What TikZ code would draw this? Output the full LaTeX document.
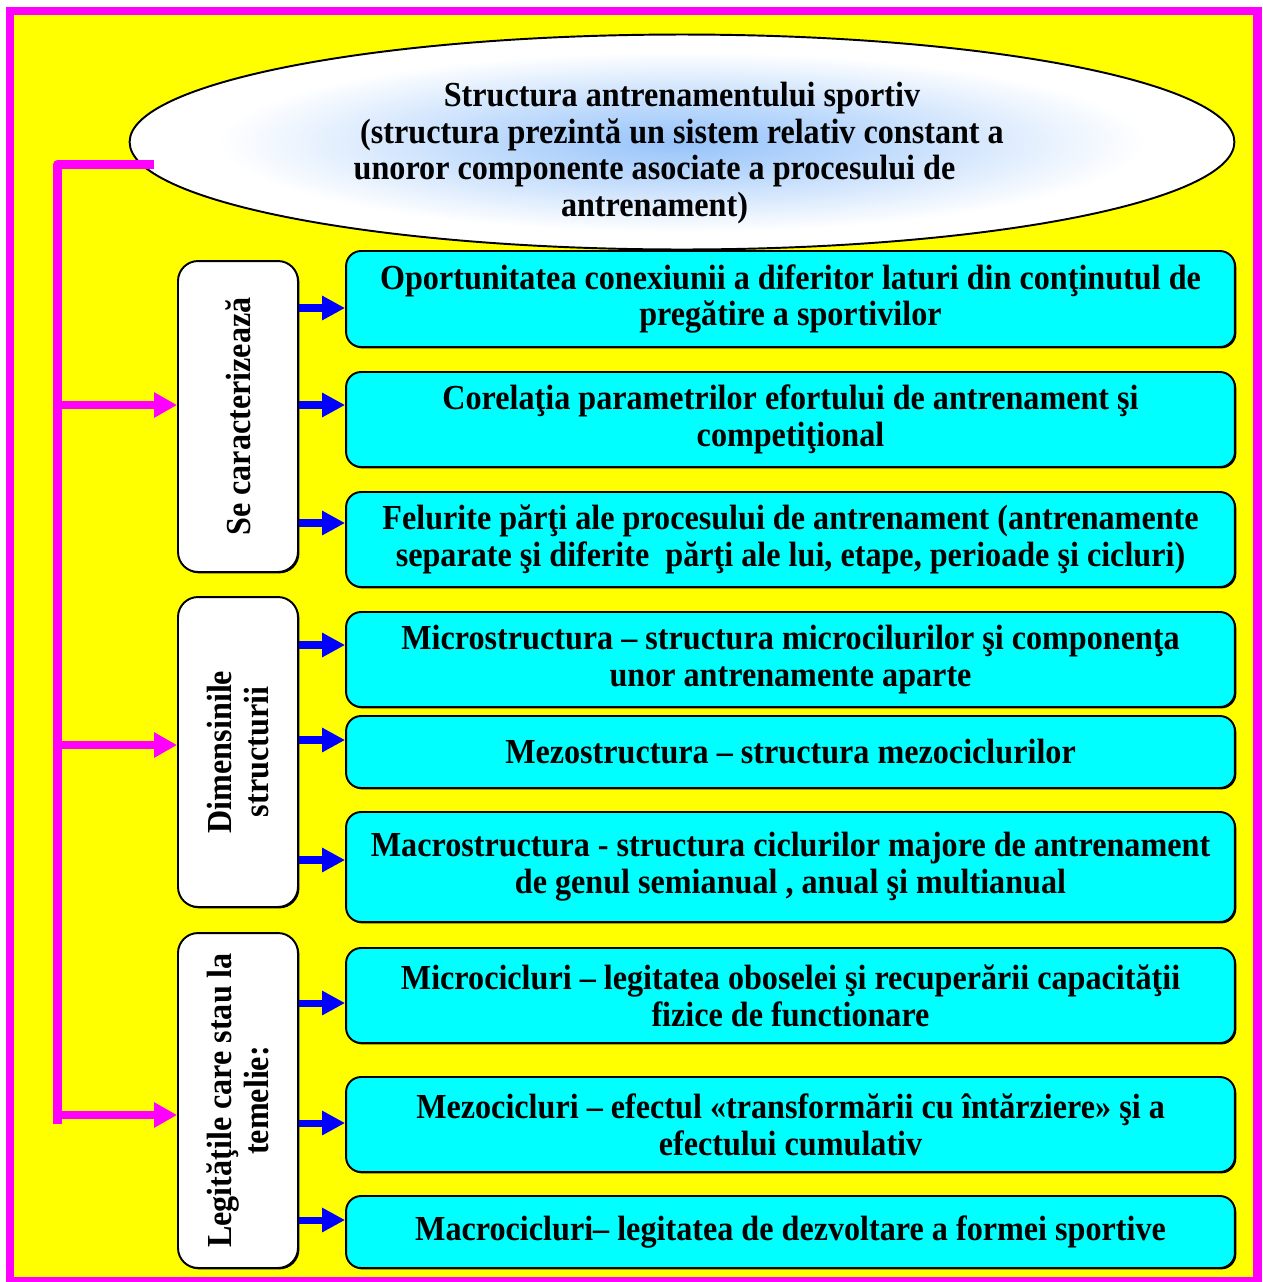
\documentclass[tikz,border=0pt]{standalone}
\usepackage{fontspec}
\setmainfont{Liberation Serif}[FakeStretch=0.915]
\usetikzlibrary{shapes.geometric,arrows.meta,shadows}
\definecolor{pinkline}{RGB}{255,0,255}
\definecolor{yellowbg}{RGB}{255,255,0}
\definecolor{cyanbox}{RGB}{0,255,255}
\definecolor{arrowblue}{RGB}{0,0,255}
\definecolor{ellblue}{RGB}{150,195,250}
\pgfdeclareradialshading{ellshade}{\pgfpoint{0bp}{0bp}}{color(0bp)=(ellblue); color(9bp)=(ellblue!60!white); color(21bp)=(white); color(50bp)=(white)}

\begin{document}
\begin{tikzpicture}[x=0.02cm, y=-0.02cm,
	every node/.style={font=\fontsize{20}{21}\selectfont\bfseries, align=center, inner sep=0pt},
	sidebox/.style={draw, line width=1.1pt, fill=white, rounded corners=0.4cm, rotate=90,
		minimum height=2.4cm, drop shadow={shadow xshift=0.8pt, shadow yshift=-0.8pt, opacity=1, fill=black}},
	itembox/.style={draw, line width=1.1pt, fill=cyanbox, rounded corners=0.3cm, minimum width=17.78cm,
		drop shadow={shadow xshift=0.8pt, shadow yshift=-0.8pt, opacity=1, fill=black}},
	pinkarrow/.style={draw=pinkline, line width=5pt, -{Triangle[length=0.46cm, width=0.48cm]}},
	bluearrow/.style={draw=arrowblue, line width=4pt, -{Triangle[length=0.46cm, width=0.46cm]}}]

			\useasboundingbox (0,0) rectangle (1263,1282);
			\fill[white] (0,0) rectangle (1263,1282);
			\draw[pinkline, line width=4.6pt, fill=yellowbg] (10,11) rectangle (1257.5,1281);

			% title
			\node[ellipse, draw, line width=1.1pt, shading=ellshade,
				minimum width=22.1cm, minimum height=4.3cm] (struct) at (682,142) {};
			\node (structtxt) at ([yshift=-0.22cm]struct.center)
				{Structura antrenamentului sportiv\\
				(structura prezintă un sistem relativ constant a\\
				unoror componente asociate a procesului de\rule{1.1cm}{0pt}\\
				antrenament)\rule{1.1cm}{0pt}};

			% left column
			\node[sidebox, minimum width=6.22cm] (caract) at (238,416.5) {Se caracterizează};
			\node[sidebox, minimum width=6.2cm] (dimens) at (238,752) {Dimensinile\\structurii};
			\node[sidebox, minimum width=6.7cm] (legit) at (238,1100.5) {Legităţile care stau la\\temelie:};

			% right column
			\node[itembox, minimum height=1.92cm] (oport) at (790.5,299)
				{Oportunitatea conexiunii a diferitor laturi din conţinutul de\\pregătire a sportivilor};
			\node[itembox, minimum height=1.9cm] (corel) at (790.5,419.5)
				{Corelaţia parametrilor efortului de antrenament şi\\competiţional};
			\node[itembox, minimum height=1.9cm] (parti) at (790.5,539.5)
				{Felurite părţi ale procesului de antrenament (antrenamente\\separate şi diferite\ \ părţi ale lui, etape, perioade şi cicluri)};
			\node[itembox, minimum height=1.9cm] (micro) at (790.5,659.5)
				{Microstructura – structura microcilurilor şi componenţa\\unor antrenamente aparte};
			\node[itembox, minimum height=1.44cm] (mezo) at (790.5,752)
				{Mezostructura – structura mezociclurilor};
			\node[itembox, minimum height=2.2cm] (macro) at (790.5,867)
				{Macrostructura - structura ciclurilor majore de antrenament\\de genul semianual , anual şi multianual};
			\node[itembox, minimum height=1.9cm] (microc) at (790.5,995.5)
				{Microcicluri – legitatea oboselei şi recuperării capacităţii\\fizice de functionare};
			\node[itembox, minimum height=1.9cm] (mezoc) at (790.5,1124.5)
				{Mezocicluri – efectul «transformării cu întărziere» şi a\\efectului cumulativ};
			\node[itembox, minimum height=1.44cm] (macroc) at (790.5,1232)
				{Macrocicluri– legitatea de dezvoltare a formei sportive};

			% magenta trunk
			\coordinate (tap) at (154,164.5);
			\coordinate (foot) at (57.5,1124);
			\draw[pinkline, line width=5pt, line join=round] (tap) -| (foot);
			\draw[pinkarrow] (foot |- 0,405) -- (caract.north |- 0,405);
			\draw[pinkarrow] (foot |- 0,745) -- (dimens.north |- 0,745);
			\draw[pinkarrow] (foot |- 0,1115) -- (legit.north |- 0,1115);

			% blue arrows
			\draw[bluearrow] (caract.south |- 0,308) -- (oport.west |- 0,308);
			\draw[bluearrow] (caract.south |- 0,405) -- (corel.west |- 0,405);
			\draw[bluearrow] (caract.south |- 0,523) -- (parti.west |- 0,523);
			\draw[bluearrow] (dimens.south |- 0,645) -- (micro.west |- 0,645);
			\draw[bluearrow] (dimens.south |- 0,740) -- (mezo.west |- 0,740);
			\draw[bluearrow] (dimens.south |- 0,860) -- (macro.west |- 0,860);
			\draw[bluearrow] (legit.south |- 0,1003) -- (microc.west |- 0,1003);
			\draw[bluearrow] (legit.south |- 0,1123) -- (mezoc.west |- 0,1123);
			\draw[bluearrow] (legit.south |- 0,1220) -- (macroc.west |- 0,1220);
\end{tikzpicture}
\end{document}
